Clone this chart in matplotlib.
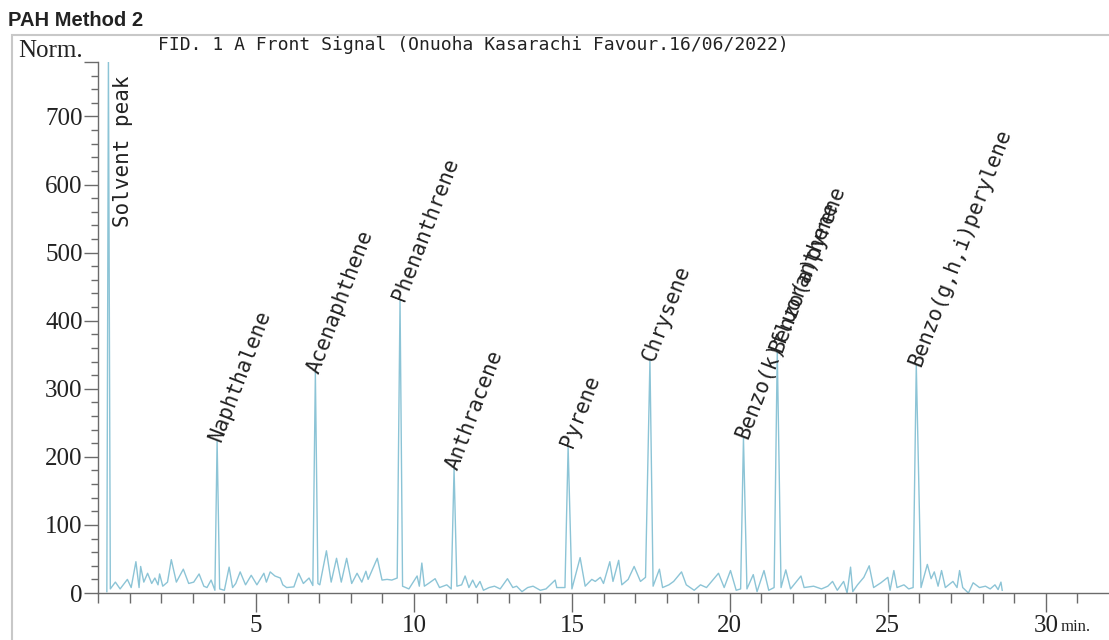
import numpy as np
import matplotlib
matplotlib.use("Agg")
import matplotlib.pyplot as plt
from matplotlib.patches import Rectangle

# peaks (retention time in min, height in Norm.)
peak_names = ["Solvent peak", "Naphthalene", "Acenaphthene", "Phenanthrene", "Anthracene",
              "Pyrene", "Chrysene", "Benzo(k)fluoranthene", "Benzo(a)pyrene",
              "Benzo(g,h,i)perylene"]
peak_rt = [0.33, 3.77, 6.88, 9.56, 11.27, 14.88, 17.47, 20.43, 21.50, 25.90]
peak_height = [790, 224, 324, 431, 183, 215, 342, 228, 355, 335]

# baseline / noise between the peaks
base_rt = [0.28, 0.39, 0.55, 0.70, 0.80, 0.93, 1.05, 1.20, 1.30, 1.35, 1.45, 1.57, 1.70, 1.80,
           1.90, 1.95, 2.05, 2.20, 2.32, 2.48, 2.70, 2.87, 3.03, 3.20, 3.35, 3.45, 3.58, 3.70,
           3.85, 4.00, 4.15, 4.26, 4.36, 4.50, 4.67, 4.85, 5.03, 5.25, 5.33, 5.45, 5.60, 5.77,
           5.85, 5.97, 6.20, 6.35, 6.50, 6.68, 6.80,
           6.96, 7.02, 7.23, 7.38, 7.55, 7.70, 7.87, 8.03, 8.20, 8.35, 8.48, 8.55, 8.84, 8.99,
           9.15, 9.30, 9.47,
           9.64, 9.84, 10.10, 10.17, 10.25, 10.33, 10.46, 10.67, 10.81, 11.04, 11.18,
           11.36, 11.51, 11.62, 11.74, 11.86, 11.97, 12.09, 12.20, 12.38, 12.55, 12.73, 12.96,
           13.13, 13.25, 13.42, 13.60, 13.77, 14.00, 14.18, 14.47, 14.52, 14.78,
           15.00, 15.26, 15.42, 15.63, 15.74, 15.90, 16.00, 16.20, 16.30, 16.48, 16.58, 16.78,
           16.97, 17.17, 17.33,
           17.57, 17.77, 17.87, 18.07, 18.22, 18.47, 18.62, 18.87, 19.07, 19.26, 19.64, 19.82,
           20.02, 20.20, 20.34,
           20.54, 20.74, 20.86, 21.08, 21.23, 21.40,
           21.62, 21.77, 21.92, 22.25, 22.35, 22.65, 22.90, 23.10, 23.25, 23.40, 23.60, 23.71,
           23.82, 23.89, 24.04, 24.24, 24.41, 24.55, 24.78, 25.00, 25.07, 25.19, 25.29, 25.51,
           25.66, 25.80,
           26.05, 26.25, 26.37, 26.47, 26.59, 26.70, 26.82, 27.06, 27.19, 27.27, 27.37, 27.55,
           27.70, 27.90, 28.09, 28.24, 28.39, 28.49, 28.58, 28.62]
base_signal = [2, 6, 16, 6, 12, 20, 8, 46, 8, 39, 16, 29, 14, 22,
               12, 28, 10, 16, 49, 16, 35, 14, 16, 28, 10, 8, 19, 4,
               6, 4, 38, 8, 14, 31, 12, 26, 12, 29, 16, 31, 25, 22,
               12, 8, 9, 29, 14, 22, 11,
               14, 12, 62, 16, 51, 16, 51, 14, 29, 16, 32, 20, 51, 19,
               20, 19, 22,
               10, 6, 25, 10, 44, 10, 14, 21, 8, 12, 6,
               10, 12, 25, 8, 19, 8, 17, 4, 8, 10, 6, 21,
               8, 10, 2, 8, 10, 4, 6, 19, 8, 8,
               6, 52, 10, 20, 17, 23, 14, 46, 17, 48, 12, 20,
               39, 17, 23,
               10, 35, 8, 12, 17, 31, 12, 4, 12, 8, 29, 8,
               33, 4, 6,
               6, 27, 2, 33, 4, 8,
               8, 34, 6, 25, 8, 10, 6, 10, 17, 4, 17, 0,
               38, 2, 12, 23, 40, 8, 15, 23, 4, 33, 8, 12,
               6, 8,
               8, 42, 21, 31, 10, 33, 8, 17, 8, 33, 8, 0,
               15, 8, 10, 6, 12, 5, 16, 4]

x_major = [5, 10, 15, 20, 25, 30]
y_major = [0, 100, 200, 300, 400, 500, 600, 700]

line_col = "#8cc4d6"
axis_col = "#6b6b6b"

rt = np.array(base_rt + peak_rt)
sig = np.array(base_signal + peak_height)
order = np.argsort(rt)

fig = plt.figure(figsize=(11.09, 6.4), dpi=100)
ax = fig.add_axes([98 / 1109, 47 / 640, 1 - 98 / 1109, (593 - 62) / 640])

ax.plot(rt[order], sig[order], color=line_col, lw=1.0)

ax.set_xlim(0, 32.0)
ax.set_ylim(0, 780)

# peak labels
for name, t, h in zip(peak_names, peak_rt, peak_height):
    if name == "Solvent peak":
        ax.text(t + 0.15, 537, name, rotation=90, ha="left", va="bottom",
                family="DejaVu Sans Mono", fontsize=15, color="#222222")
    else:
        ax.text(t - 0.05, h, name, rotation=69, rotation_mode="anchor",
                ha="left", va="center", family="DejaVu Sans Mono", fontsize=15,
                color="#222222", clip_on=False)

for s in ["top", "right"]:
    ax.spines[s].set_visible(False)
for s in ["left", "bottom"]:
    ax.spines[s].set_color(axis_col)
    ax.spines[s].set_linewidth(1.0)

ax.set_xticks(x_major)
ax.set_xticklabels([str(v) for v in x_major])
ax.set_xticks(np.arange(0, 32, 1), minor=True)
ax.set_yticks(y_major + [780])
ax.set_yticklabels([str(v) for v in y_major] + ["Norm."])
ax.set_yticks(np.arange(0, 781, 20), minor=True)
ax.yaxis.get_majorticklabels()[-1].set_verticalalignment("bottom")

ax.tick_params(axis="x", which="major", length=14, width=1, color=axis_col, pad=2,
               labelsize=18, labelfontfamily="Liberation Serif", labelcolor="#222222")
ax.tick_params(axis="x", which="minor", length=7, width=1, color=axis_col)
ax.tick_params(axis="y", which="major", length=10, width=1, color=axis_col, pad=1,
               labelsize=18, labelfontfamily="Liberation Serif", labelcolor="#222222")
ax.tick_params(axis="y", which="minor", length=5, width=1, color=axis_col)

ax.annotate("min.", xy=(30, 0), xycoords=("data", "axes fraction"),
            xytext=(11, -19), textcoords="offset points", ha="left", va="top",
            family="Liberation Serif", fontsize=12, color="#222222")

# frame around the chart area and headings
fig.patches.append(Rectangle((12 / 1109, -0.1), 1.2, 1.1 - 35 / 640, transform=fig.transFigure,
                             fill=False, edgecolor="#c8c8c8", lw=1.5))
fig.text(8 / 1109, 1 - 20 / 640, "PAH Method 2", ha="left", va="center",
         family="Liberation Sans", fontweight="bold", fontsize=14.5, color="#222222")
fig.text(158 / 1109, 1 - 45 / 640, "FID. 1 A Front Signal (Onuoha Kasarachi Favour.16/06/2022)",
         ha="left", va="center", family="DejaVu Sans Mono", fontsize=13, color="#222222")

fig.savefig("out.png", dpi=100)
